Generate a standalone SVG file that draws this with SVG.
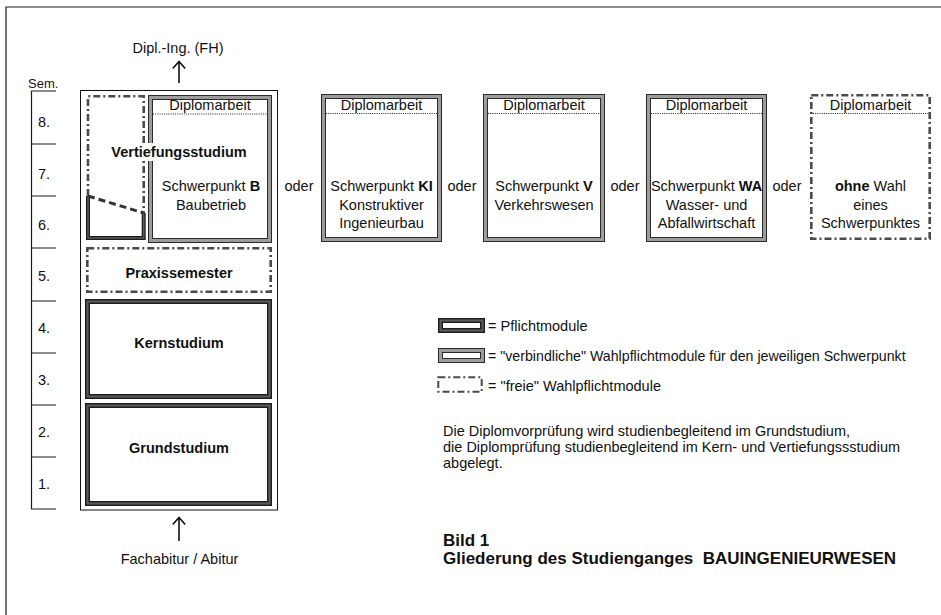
<svg xmlns="http://www.w3.org/2000/svg" width="941" height="615" viewBox="0 0 941 615">
<defs>
<style>
.t{font-family:"Liberation Sans",Arial,Helvetica,sans-serif;font-size:14.5px;fill:#111}
.b{font-weight:bold}
.c{text-anchor:middle}
.ln{fill:none;stroke:#1a1a1a;stroke-width:1.2}
.pfo{fill:none;stroke:#1c1c1c;stroke-width:5}
.pfi{fill:none;stroke:#5a5a5a;stroke-width:2.2}
.vbo{fill:none;stroke:#2a2a2a;stroke-width:5}
.vbi{fill:none;stroke:#9c9c9c;stroke-width:3}
.fr{fill:none;stroke:#4a4a4a;stroke-width:2.6;stroke-dasharray:7 3 2 3}
.dot{fill:none;stroke:#222;stroke-width:1;stroke-dasharray:1 1.2}
.arr{fill:none;stroke:#111;stroke-width:1.6}
</style>
</defs>
<rect width="941" height="615" fill="#fff"/>
<path class="ln" d="M6,620 V7 H945"/>

<g id="semester-scale">
<text class="t" x="28" y="88" style="font-size:13px">Sem.</text>
<path class="ln" d="M31.5,91 V509 M31,91 H56 M31,144 H56 M31,196 H56 M31,248 H56 M31,301 H56 M31,353 H56 M31,405 H56 M31,457 H56 M31,509 H56"/>
<text class="t" x="38" y="127">8.</text>
<text class="t" x="38" y="179">7.</text>
<text class="t" x="38" y="230">6.</text>
<text class="t" x="38" y="281">5.</text>
<text class="t" x="38" y="333">4.</text>
<text class="t" x="38" y="385">3.</text>
<text class="t" x="38" y="437">2.</text>
<text class="t" x="38" y="489">1.</text>
</g>

<g id="studium">
<rect x="80.5" y="90.5" width="197" height="419.5" fill="none" stroke="#111" stroke-width="1"/>
</g>

<g id="vertiefung-frei">
<path class="fr" d="M88,196 V96.3 H143.7 V213"/>
<path class="pfo" d="M88,196 V238 H143.7 V213" style="stroke-width:4"/>
<path class="pfi" d="M88,196 V238 H143.7 V213" style="stroke-width:1.6"/>
<path d="M88,196 L143.7,213" fill="none" stroke="#333" stroke-width="3" stroke-dasharray="7 4"/>
</g>

<g id="schwerpunkt-b">
<rect class="vbo" x="150.5" y="97.5" width="119" height="143"/>
<rect class="vbi" x="150.5" y="97.5" width="119" height="143"/>
<line class="dot" x1="153" y1="114" x2="267" y2="114"/>
<text class="t c" x="210" y="110">Diplomarbeit</text>
<text class="t c" x="211" y="191">Schwerpunkt <tspan class="b">B</tspan></text>
<text class="t c" x="211" y="209.5">Baubetrieb</text>
</g>

<g id="vertiefungsstudium">
<rect x="109" y="143" width="141" height="18" fill="#fff"/>
<text class="t b c" x="179" y="157">Vertiefungsstudium</text>
</g>

<g id="praxissemester">
<rect class="fr" x="87.3" y="248.3" width="183.4" height="43.4"/>
<text class="t b c" x="179" y="278">Praxissemester</text>
</g>

<g id="kernstudium">
<rect class="pfo" x="87.5" y="301.5" width="182" height="95"/>
<rect class="pfi" x="87.5" y="301.5" width="182" height="95"/>
<text class="t b c" x="179" y="348">Kernstudium</text>
</g>

<g id="grundstudium">
<rect class="pfo" x="87.5" y="405.5" width="182" height="98"/>
<rect class="pfi" x="87.5" y="405.5" width="182" height="98"/>
<text class="t b c" x="179" y="453">Grundstudium</text>
</g>

<g id="abschluss">
<text class="t c" x="178" y="53">Dipl.-Ing. (FH)</text>
</g>
<g id="zugang">
<text class="t c" x="179.5" y="564">Fachabitur / Abitur</text>
</g>

<g id="oder-labels">
<text class="t c" x="299" y="191">oder</text>
<text class="t c" x="462" y="191">oder</text>
<text class="t c" x="625" y="191">oder</text>
<text class="t c" x="787" y="191">oder</text>
</g>

<g id="schwerpunkt-ki">
<rect class="vbo" x="323.5" y="96.5" width="116" height="143"/>
<rect class="vbi" x="323.5" y="96.5" width="116" height="143"/>
<line class="dot" x1="326" y1="113.5" x2="437" y2="113.5"/>
<text class="t c" x="381.5" y="110">Diplomarbeit</text>
<text class="t c" x="381.5" y="191">Schwerpunkt <tspan class="b">KI</tspan></text>
<text class="t c" x="381.5" y="209.5">Konstruktiver</text>
<text class="t c" x="381.5" y="228">Ingenieurbau</text>
</g>

<g id="schwerpunkt-v">
<rect class="vbo" x="485.5" y="96.5" width="117" height="143"/>
<rect class="vbi" x="485.5" y="96.5" width="117" height="143"/>
<line class="dot" x1="488" y1="113.5" x2="600" y2="113.5"/>
<text class="t c" x="544" y="110">Diplomarbeit</text>
<text class="t c" x="544" y="191">Schwerpunkt <tspan class="b">V</tspan></text>
<text class="t c" x="544" y="209.5">Verkehrswesen</text>
</g>

<g id="schwerpunkt-wa">
<rect class="vbo" x="648.5" y="96.5" width="116" height="143"/>
<rect class="vbi" x="648.5" y="96.5" width="116" height="143"/>
<line class="dot" x1="651" y1="113.5" x2="762" y2="113.5"/>
<text class="t c" x="706.5" y="110">Diplomarbeit</text>
<text class="t c" x="706.5" y="191">Schwerpunkt <tspan class="b">WA</tspan></text>
<text class="t c" x="706.5" y="209.5">Wasser- und</text>
<text class="t c" x="706.5" y="228">Abfallwirtschaft</text>
</g>

<g id="ohne-schwerpunkt">
<rect class="fr" x="811.3" y="95.3" width="118.4" height="143.4"/>
<line class="dot" x1="813" y1="113.5" x2="928" y2="113.5"/>
<text class="t c" x="870.5" y="110">Diplomarbeit</text>
<text class="t c" x="870.5" y="191"><tspan class="b">ohne</tspan> Wahl</text>
<text class="t c" x="870.5" y="209.5">eines</text>
<text class="t c" x="870.5" y="228">Schwerpunktes</text>
</g>

<g id="legende">
<rect class="pfo" x="440.5" y="320.5" width="42" height="10"/>
<rect class="pfi" x="440.5" y="320.5" width="42" height="10"/>
<text class="t" x="488" y="331">= Pflichtmodule</text>
<rect class="vbo" x="440.5" y="350.5" width="42" height="10"/>
<rect class="vbi" x="440.5" y="350.5" width="42" height="10"/>
<text class="t" x="488" y="361" style="font-size:14.2px">= "verbindliche" Wahlpflichtmodule für den jeweiligen Schwerpunkt</text>
<rect class="fr" x="438.3" y="377.3" width="43.4" height="14.4" style="stroke-width:2"/>
<text class="t" x="488" y="391">= "freie" Wahlpflichtmodule</text>
</g>

<g id="hinweis">
<text class="t" x="443" y="436">Die Diplomvorprüfung wird studienbegleitend im Grundstudium,</text>
<text class="t" x="443" y="452">die Diplomprüfung studienbegleitend im Kern- und Vertiefungssstudium</text>
<text class="t" x="443" y="468">abgelegt.</text>
</g>

<g id="titel">
<text class="t b" x="443" y="546" style="font-size:17px">Bild 1</text>
<text class="t b" x="443" y="564" style="font-size:17px;white-space:pre" xml:space="preserve">Gliederung des Studienganges  BAUINGENIEURWESEN</text>
</g>

<g id="connectors">
<path class="arr" d="M179,83 V61.5 M172.8,68.5 L179,61.5 L185.2,68.5"/>
<path class="arr" d="M179,541 V517.5 M172.8,524.5 L179,517.5 L185.2,524.5"/>
</g>
</svg>
